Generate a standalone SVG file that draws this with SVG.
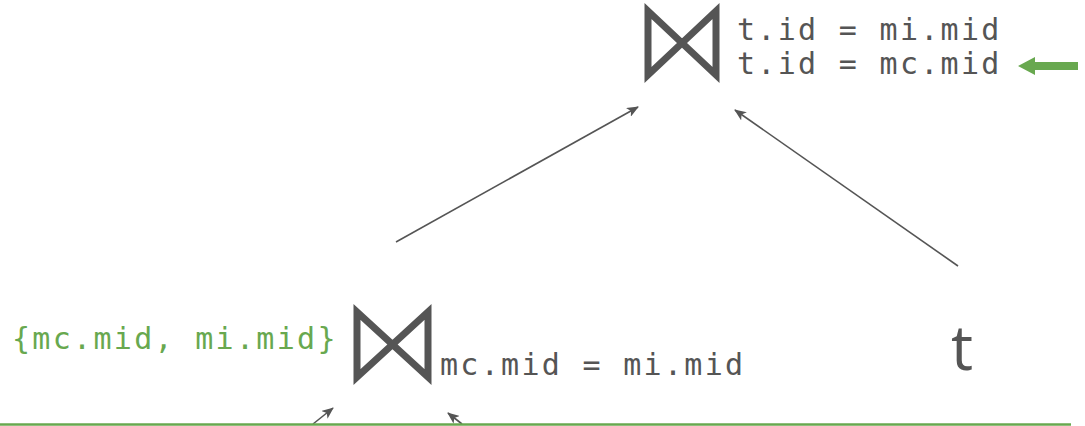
<svg xmlns="http://www.w3.org/2000/svg" width="1085" height="426" viewBox="0 0 1085 426">
<style>
.bow{fill:none;stroke:#555;stroke-width:7;stroke-linejoin:miter}
.mono{font-family:"DejaVu Sans Mono","Liberation Mono",monospace;font-size:30px;letter-spacing:2.3px;fill:#555}
.green{fill:#68a84f}
.edge{stroke:#555;stroke-width:1.6;fill:none;marker-end:url(#ah)}
</style>
<defs>
<marker id="ah" viewBox="0 0 12 10" refX="11" refY="5" markerWidth="12" markerHeight="10" markerUnits="userSpaceOnUse" orient="auto">
<path d="M0,0 L12,5 L0,10 L3,5 Z" fill="#555"/>
</marker>
</defs>
<rect width="1085" height="426" fill="#fff"/>
<g id="join-top">
<path class="bow" d="M648,11 L648,75 L716,11 L716,75 Z"/>
<text class="mono" x="737" y="40">t.id = mi.mid</text>
<text class="mono" x="737" y="74">t.id = mc.mid</text>
</g>
<g id="join-bottom">
<path class="bow" d="M357,312 L357,377 L428,312 L428,377 Z"/>
<text class="mono" x="440" y="375">mc.mid = mi.mid</text>
<text class="mono green" x="12" y="349">{mc.mid, mi.mid}</text>
</g>
<g id="scan-t">
<text x="951" y="370" font-family="Open Sans, sans-serif" font-size="62" fill="#555">t</text>
</g>
<g id="marker-arrow">
<path d="M1018,66 L1035,57 L1035,62 L1078,62 L1078,70 L1035,70 L1035,75 Z" fill="#68a84f"/>
</g>
<g id="connectors">
<line class="edge" x1="396" y1="242" x2="638" y2="107"/>
<line class="edge" x1="958" y1="266" x2="735" y2="110"/>
<line class="edge" x1="313" y1="424" x2="333" y2="408"/>
<line class="edge" x1="462" y1="424" x2="448" y2="413"/>
</g>
<line x1="0" y1="424.5" x2="1071" y2="424.5" stroke="#68a84f" stroke-width="2.5"/>
</svg>
